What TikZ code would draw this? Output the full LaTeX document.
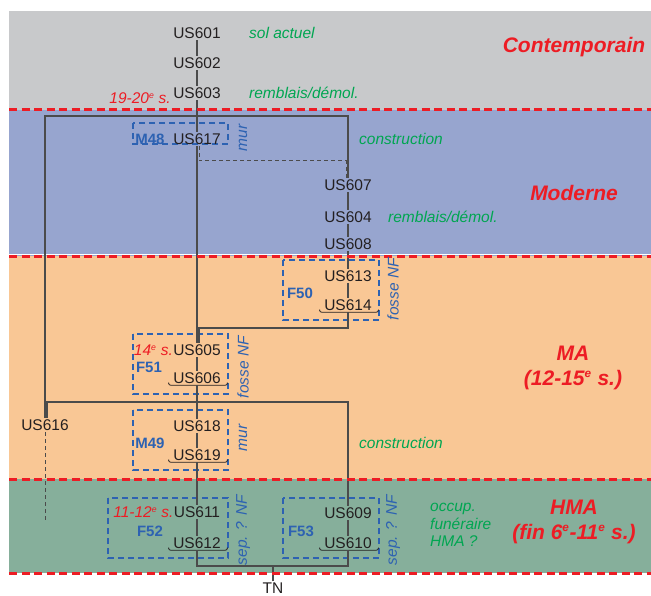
\documentclass[tikz,border=0pt]{standalone}
\usepackage{fontspec}
\setmainfont{Liberation Sans}
\usetikzlibrary{calc}
\definecolor{bgray}{HTML}{C8C9CB}
\definecolor{bblue}{HTML}{97A5CF}
\definecolor{borange}{HTML}{F9C795}
\definecolor{bgreen}{HTML}{86AF9B}
\definecolor{rtext}{HTML}{ED1C24}
\definecolor{gtext}{HTML}{00A651}
\definecolor{btext}{HTML}{2D62B2}
\definecolor{txt}{HTML}{231F20}
\definecolor{lcol}{HTML}{4B4B4B}
\newcommand\ubr[1]{\draw[brk] ([shift={(-3pt,2.5pt)}]#1.south west) -- ([shift={(-3pt,0pt)}]#1.south west) -- ([shift={(5pt,0pt)}]#1.south east) -- ([shift={(5pt,2.5pt)}]#1.south east);}
\newcommand\supe{\textsuperscript{\scalebox{0.8}{e}}}
\begin{document}
\begin{tikzpicture}[x=1pt,y=-1pt,
  us/.style={font=\fontsize{15.5}{18}\selectfont, text=txt, inner sep=1.5pt},
  note/.style={font=\fontsize{15.5}{18}\selectfont\itshape, text=gtext, inner sep=0pt},
  feat/.style={font=\fontsize{15}{18}\selectfont\bfseries, text=btext, inner sep=0pt},
  rot/.style={font=\fontsize{15.5}{18}\selectfont\itshape, text=btext, rotate=90, inner sep=0pt},
  datef/.style={font=\fontsize{15.5}{18}\selectfont\itshape, text=rtext, inner sep=0pt},
  per/.style={font=\fontsize{21}{24.5}\selectfont\bfseries\itshape, text=rtext, align=center, inner sep=0pt},
  ln/.style={draw=lcol, line width=1.1pt},
  dln/.style={draw=lcol, line width=1pt, dash pattern=on 4pt off 3pt},
  brk/.style={draw=txt, line width=0.8pt, rounded corners=2pt},
  fbox/.style={draw=btext, line width=1.1pt, dash pattern=on 6pt off 4pt},
  perline/.style={draw=rtext, line width=3pt, dash pattern=on 8pt off 4.5pt}]
\useasboundingbox (0,0) rectangle (651,596);
% bands
\fill[bgray] (9,11) rectangle (651,110);
\fill[bblue] (9,110) rectangle (651,256);
\fill[borange] (9,256) rectangle (651,479);
\fill[bgreen] (9,479) rectangle (651,573);
\draw[white, line width=1pt] (9,255) -- (651,255);
\draw[white, line width=1pt] (9,574.5) -- (651,574.5);
% helper coordinates
\coordinate (ytop) at (0,116);
\coordinate (ydash) at (0,161);
\coordinate (y328) at (0,328);
\coordinate (y402) at (0,402);
\coordinate (y522) at (0,522);
\coordinate (y566) at (0,566);
% feature boxes
\draw[fbox] (133,123) rectangle (228,144);
\draw[fbox] (283,260) rectangle (379,320);
\draw[fbox] (133,334) rectangle (228,394);
\draw[fbox] (133,410) rectangle (228,470);
\draw[fbox] (108,498) rectangle (228,558);
\draw[fbox] (283,498) rectangle (379,558);
% US nodes
\node[us] (u601) at (197,33) {US601};
\node[us] (u602) at (197,63) {US602};
\node[us] (u603) at (197,93) {US603};
\node[us] (u617) at (197,139) {US617};
\node[us] (u607) at (348,185) {US607};
\node[us] (u604) at (348,217) {US604};
\node[us] (u608) at (348,244) {US608};
\node[us] (u613) at (348,276) {US613};
\node[us] (u614) at (348,305) {US614};
\node[us] (u605) at (197,350) {US605};
\node[us] (u606) at (197,378) {US606};
\node[us] (u616) at (45,425) {US616};
\node[us] (u618) at (197,426) {US618};
\node[us] (u619) at (197,455) {US619};
\node[us] (u611) at (197,512) {US611};
\node[us] (u612) at (197,543) {US612};
\node[us] (u609) at (348,513) {US609};
\node[us] (u610) at (348,543) {US610};
\node[us] (tn) at (273,588.5) {TN};
% brackets
\ubr{u614}
\ubr{u606}
\ubr{u619}
\ubr{u612}
\ubr{u610}
% connectors
\draw[ln] (u601) -- (u602);
\draw[ln] (u602) -- (u603);
\draw[ln] (u603) -- (u617);
\draw[ln] (u616.north) |- (ytop -| u607) -- (u607.north);
\draw[dln] ($(u617.south)+(2,0)$) |- ($(ydash -| u607)+(-1.5,0)$) -- ($(u607.north)+(-1.5,0)$);
\draw[ln] (u607) -- (u604);
\draw[ln] (u604) -- (u608);
\draw[ln] (u608) -- (u613);
\draw[ln] (u613) -- (u614);
\draw[ln] (u614.south) |- ($(y328 -| u605)+(2,0)$) -- ($(u605.north)+(2,0)$);
\draw[ln] (u617) -- (u605);
\draw[ln] (u605) -- (u606);
\draw[ln] (u606) -- (u618);
\draw[ln] ($(u616.north)+(2,0)$) |- (y402 -| u609) -- (u609.north);
\draw[dln] (u616.south) -- (u616.south |- y522);
\draw[ln] (u618) -- (u619);
\draw[ln] (u619) -- (u611);
\draw[ln] (u611) -- (u612);
\draw[ln] (u609) -- (u610);
\draw[ln] (u612.south) |- (y566 -| u610) -- (u610.south);
\draw[ln] (tn.north) -- (tn.north |- y566);
% period separators
\draw[perline] (9,110) -- (651,110);
\draw[perline] (9,257) -- (651,257);
\draw[perline] (9,479) -- (651,479);
\draw[perline] (9,573) -- (651,573);
% feature labels
\node[feat] (m48) at (150,139) {M48};
\node[feat] (f50) at (300,293) {F50};
\node[feat] (f51) at (149,367) {F51};
\node[feat] (m49) at (150,443) {M49};
\node[feat] (f52) at (150,531) {F52};
\node[feat] (f53) at (301,531) {F53};
\node[rot] (r48) at (243,138) {mur};
\node[rot] (r50) at (393,289) {fosse NF};
\node[rot] (r51) at (243,367) {fosse NF};
\node[rot] (r49) at (243,438) {mur};
\node[rot] (r52) at (243,530) {sep. ? NF};
\node[rot] (r53) at (393,530) {sep. ? NF};
% dates
\node[datef, anchor=base east] (d1920) at (171,104) {19-20\supe{} s.};
\node[datef, anchor=base east] (d14) at ($(u605.base west)+(1.5,0)$) {14\supe{} s.};
\node[datef, anchor=base east] (d1112) at ($(u611.base west)+(1.5,0)$) {11-12\supe{} s.};
% notes
\node[note, anchor=west] (n1) at (249,33) {sol actuel};
\node[note, anchor=west] (n2) at (249,93) {remblais/démol.};
\node[note, anchor=west] (n3) at (359,139) {construction};
\node[note, anchor=west] (n4) at (388,217) {remblais/démol.};
\node[note, anchor=west] (n5) at (359,443) {construction};
\node[note, anchor=west, align=left, font=\fontsize{15.5}{17.5}\selectfont\itshape] (n6) at (430,525) {occup.\\funéraire\\HMA ?};
% periods
\node[per] (pc) at (574,47) {Contemporain};
\node[per] (pmo) at (574,193) {Moderne};
\node[per] (pma) at (573,368) {MA\\(12-15\supe{} s.)};
\node[per] (phma) at (574,522) {HMA\\(fin 6\supe{}-11\supe{} s.)};
\end{tikzpicture}
\end{document}
